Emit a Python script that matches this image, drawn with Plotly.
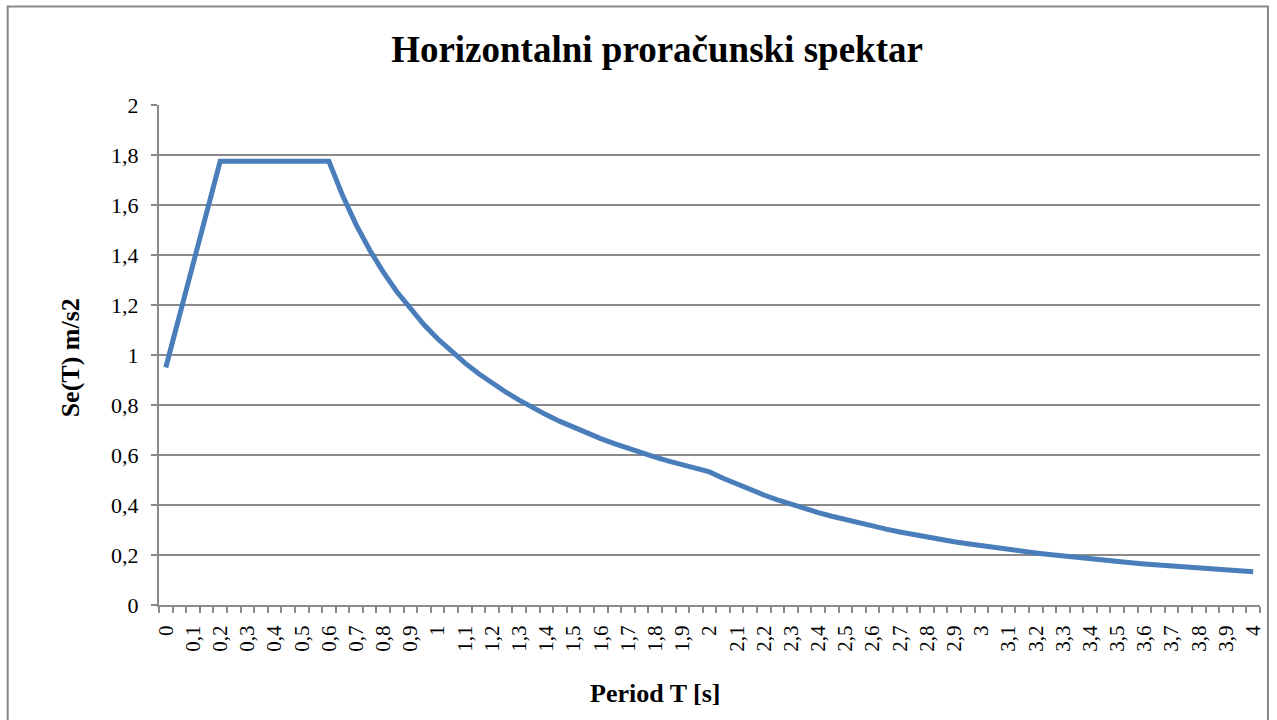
import plotly.graph_objects as go

# Period T [s] (category points, step 0.05)
periods = [0.0, 0.05, 0.1, 0.15, 0.2, 0.25, 0.3, 0.35, 0.4, 0.45, 0.5, 0.55, 0.6,
           0.65, 0.7, 0.75, 0.8, 0.85, 0.9, 0.95, 1.0, 1.05, 1.1, 1.15, 1.2, 1.25,
           1.3, 1.35, 1.4, 1.45, 1.5, 1.55, 1.6, 1.65, 1.7, 1.75, 1.8, 1.85, 1.9,
           1.95, 2.0, 2.05, 2.1, 2.15, 2.2, 2.25, 2.3, 2.35, 2.4, 2.45, 2.5, 2.55,
           2.6, 2.65, 2.7, 2.75, 2.8, 2.85, 2.9, 2.95, 3.0, 3.05, 3.1, 3.15, 3.2,
           3.25, 3.3, 3.35, 3.4, 3.45, 3.5, 3.55, 3.6, 3.65, 3.7, 3.75, 3.8, 3.85,
           3.9, 3.95, 4.0]

# Se(T) m/s2
se_values = [0.95, 1.156, 1.3625, 1.569, 1.775, 1.775, 1.775, 1.775, 1.775, 1.775, 1.775, 1.775, 1.775,
             1.6385, 1.5214, 1.42, 1.3313, 1.2529, 1.1833, 1.1211, 1.065, 1.0143, 0.9682, 0.9261,
             0.8875, 0.852, 0.8192, 0.7889, 0.7607, 0.7345, 0.71, 0.6871, 0.6656, 0.6455, 0.6265,
             0.6086, 0.5917, 0.5757, 0.5605, 0.5462, 0.5325,
             0.5068, 0.483, 0.4608, 0.4401, 0.4207, 0.4026, 0.3857, 0.3698, 0.3549, 0.3408,
             0.3276, 0.3151, 0.3033, 0.2922, 0.2817, 0.2717, 0.2622, 0.2533, 0.2448, 0.2367,
             0.229, 0.2216, 0.2147, 0.208, 0.2017, 0.1956, 0.1898, 0.1843, 0.179, 0.1739,
             0.169, 0.1644, 0.1599, 0.1556, 0.1515, 0.1475, 0.1437, 0.14, 0.1365, 0.1331]

x_tick_vals = [0.0, 0.1, 0.2, 0.3, 0.4, 0.5, 0.6, 0.7, 0.8, 0.9, 1.0, 1.1, 1.2, 1.3,
               1.4, 1.5, 1.6, 1.7, 1.8, 1.9, 2.0, 2.1, 2.2, 2.3, 2.4, 2.5, 2.6, 2.7,
               2.8, 2.9, 3.0, 3.1, 3.2, 3.3, 3.4, 3.5, 3.6, 3.7, 3.8, 3.9, 4.0]
x_tick_text = ["0", "0,1", "0,2", "0,3", "0,4", "0,5", "0,6", "0,7", "0,8", "0,9", "1",
               "1,1", "1,2", "1,3", "1,4", "1,5", "1,6", "1,7", "1,8", "1,9", "2",
               "2,1", "2,2", "2,3", "2,4", "2,5", "2,6", "2,7", "2,8", "2,9", "3",
               "3,1", "3,2", "3,3", "3,4", "3,5", "3,6", "3,7", "3,8", "3,9", "4"]

title_text = "Horizontalni proračunski spektar"
x_title = "Period T [s]"
y_title = "Se(T) m/s2"

GRAY = "#8a8a8a"
SERIF = "Liberation Serif, Times New Roman, serif"

fig = go.Figure()
fig.add_trace(go.Scatter(
    x=periods, y=se_values, mode="lines",
    line=dict(color="#4a7ebb", width=5),
    showlegend=False, hoverinfo="x+y",
))

fig.update_layout(
    width=1277, height=720,
    margin=dict(l=159, r=12, t=105, b=115),
    paper_bgcolor="white", plot_bgcolor="white",
    separators=",.",
    font=dict(family=SERIF, color="black", size=21),
    title=dict(text="<b>" + title_text + "</b>", x=657 / 1277, xanchor="center",
               xref="container", y=1 - 49 / 720, yref="container", yanchor="middle",
               font=dict(family=SERIF, size=37, color="black")),
    xaxis=dict(
        range=[-0.025, 4.025], showgrid=False, zeroline=False,
        showline=True, linecolor=GRAY, linewidth=2,
        tickmode="array", tickvals=x_tick_vals, ticktext=x_tick_text,
        tickangle=-90, ticks="", ticklen=0,
        ticklabelstandoff=10,
        tickfont=dict(family=SERIF, size=21, color="black"),
        minor=dict(tick0=-0.025, dtick=0.05, ticks="outside", ticklen=6,
                   tickcolor=GRAY, tickwidth=1.5, showgrid=False),
    ),
    yaxis=dict(
        range=[0, 2], dtick=0.2, tick0=0, showgrid=True, gridcolor=GRAY, gridwidth=1.5,
        zeroline=False, showline=True, linecolor=GRAY, linewidth=2,
        ticks="outside", ticklen=6, tickcolor=GRAY, tickwidth=1.5,
        ticklabelstandoff=8,
        tickfont=dict(family=SERIF, size=22, color="black"),
    ),
    annotations=[
        dict(text="<b>" + x_title + "</b>", xref="paper", yref="paper",
             x=(657 - 159) / 1106, y=-0.176, xanchor="center", yanchor="middle", showarrow=False,
             font=dict(family=SERIF, size=26, color="black")),
        dict(text="<b>" + y_title + "</b>", xref="paper", yref="paper",
             x=-0.0805, y=0.494, xanchor="center", yanchor="middle", showarrow=False,
             textangle=-90, font=dict(family=SERIF, size=26, color="black")),
    ],
    shapes=[
        dict(type="rect", xref="paper", yref="paper",
             x0=(7 - 159) / 1106, x1=(1273 - 159) / 1106,
             y0=(605 - 730) / 500, y1=(605 - 6.5) / 500,
             line=dict(color="#888888", width=2), fillcolor="rgba(0,0,0,0)", layer="below"),
    ],
)

fig.write_html("out.html", config={"displayModeBar": False},
               post_script="document.body.style.margin='0';document.body.style.padding='0';")
